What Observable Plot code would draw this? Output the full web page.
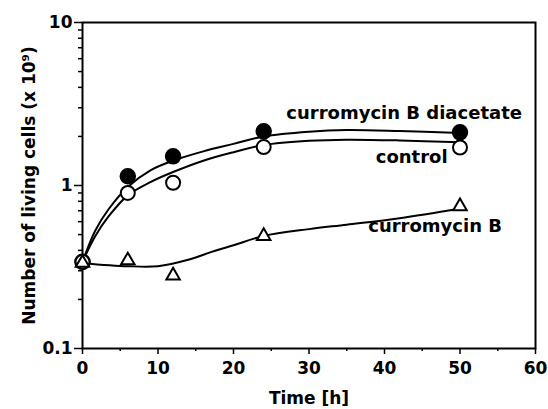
<!DOCTYPE html>
<html><head><meta charset="utf-8">
<script src="https://cdn.jsdelivr.net/npm/d3@7"></script>
<script src="https://cdn.jsdelivr.net/npm/@observablehq/plot@0.6"></script>
<style>body{margin:0;background:#fff}</style>
</head><body><div id="chart"></div>
<script>
// Measured points
const hours = [0, 6, 12, 24, 50];
const diacetate = [0.34, 1.14, 1.51, 2.15, 2.12];
const control = [0.34, 0.90, 1.04, 1.72, 1.71];
const curromycinB = [0.335, 0.347, 0.28, 0.49, 0.745];

// Fitted curves
const fitHoursA = [0, 1.7, 3.5, 6, 9, 12, 16, 20, 24, 30, 35, 42, 50];
const diacetateFit = [0.34, 0.53, 0.72, 0.98, 1.24, 1.42, 1.62, 1.8, 2.0, 2.14, 2.19, 2.16, 2.1];
const controlFit = [0.34, 0.49, 0.65, 0.87, 1.05, 1.21, 1.42, 1.6, 1.77, 1.88, 1.91, 1.89, 1.84];
const fitHoursB = [0, 6, 10, 14, 17, 20, 24, 30, 35, 42, 50];
const curromycinBFit = [0.334, 0.32, 0.32, 0.35, 0.39, 0.43, 0.49, 0.54, 0.575, 0.63, 0.72];

// Axis ticks
const xTicks = [0, 10, 20, 30, 40, 50, 60];
const xMinor = [5, 15, 25, 35, 45, 55];
const yTicks = [0.1, 1, 10];
const yMinor = [0.2, 0.3, 0.4, 0.5, 0.6, 0.7, 0.8, 0.9, 2, 3, 4, 5, 6, 7, 8, 9];

// Series labels (data coordinates of label centres)
const labelText = ["curromycin B diacetate", "control", "curromycin B"];
const labelX = [42.6, 43.6, 46.7];
const labelY = [2.78, 1.5, 0.56];

const rows = (xs, ys) => xs.map((x, i) => ({x, y: ys[i]}));
const labels = labelText.map((t, i) => ({t, x: labelX[i], y: labelY[i]}));
const blank = () => "";

const chart = Plot.plot({
  width: 548,
  height: 409,
  marginLeft: 82,
  marginRight: 13,
  marginTop: 22,
  marginBottom: 61,
  style: {fontFamily: "DejaVu Sans", fontWeight: "bold", color: "#000", background: "#fff"},
  x: {domain: [0, 60]},
  y: {type: "log", domain: [0.1, 10]},
  marks: [
    Plot.axisX({ticks: xMinor, tickSize: 3, tickFormat: blank, label: null, strokeWidth: 1.5}),
    Plot.axisX({ticks: xTicks, tickSize: 6, tickPadding: 7, fontSize: 17, strokeWidth: 1.5,
      label: "Time [h]", labelAnchor: "center", labelArrow: "none", labelOffset: 55}),
    Plot.axisY({ticks: yMinor, tickSize: 4, tickFormat: blank, label: null, strokeWidth: 1.5}),
    Plot.axisY({ticks: yTicks, tickSize: 8, tickPadding: 2, fontSize: 17, strokeWidth: 1.5,
      tickFormat: d => String(d),
      label: "Number of living cells (x 10⁹)", labelAnchor: "center", labelArrow: "none", labelOffset: 60}),
    Plot.frame({strokeWidth: 2}),
    Plot.line(rows(fitHoursA, diacetateFit), {x: "x", y: "y", curve: "catmull-rom", strokeWidth: 2}),
    Plot.line(rows(fitHoursA, controlFit), {x: "x", y: "y", curve: "catmull-rom", strokeWidth: 2}),
    Plot.line(rows(fitHoursB, curromycinBFit), {x: "x", y: "y", curve: "catmull-rom", strokeWidth: 2}),
    Plot.dot(rows(hours, diacetate), {x: "x", y: "y", r: 7.5, fill: "black", stroke: "black"}),
    Plot.dot(rows(hours, control), {x: "x", y: "y", r: 7, fill: "white", stroke: "black", strokeWidth: 2}),
    Plot.dot(rows(hours, curromycinB), {x: "x", y: "y", symbol: "triangle", r: 5, fill: "white", stroke: "black", strokeWidth: 2}),
    Plot.text(labels, {x: "x", y: "y", text: "t", fontSize: 18, fontWeight: "bold", fill: "black"})
  ]
});
document.getElementById("chart").appendChild(chart);
</script>
</body></html>
